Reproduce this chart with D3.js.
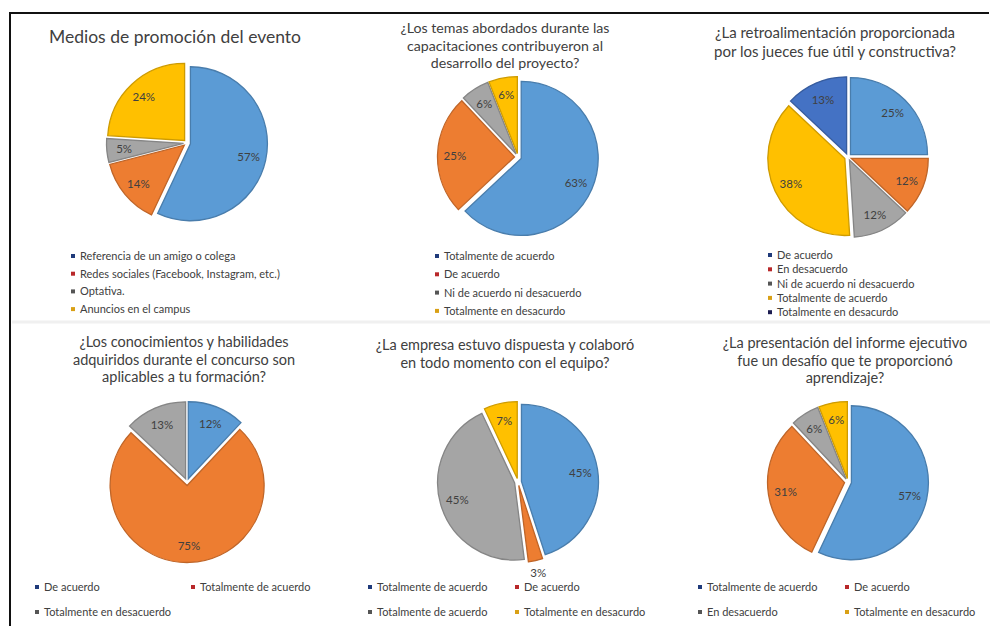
<!DOCTYPE html>
<html>
<head>
<meta charset="utf-8">
<script src="https://cdn.jsdelivr.net/npm/d3@7"></script>
<style>
  body { margin: 0; background: #fff; }
  svg { display: block; font-family: Lato, "Open Sans", sans-serif; }
  .title { fill: #404040; text-anchor: middle; }
  .pct { fill: #404040; font-size: 11.5px; text-anchor: middle; dominant-baseline: central; }
  .leg { fill: #404040; font-size: 11px; }
</style>
</head>
<body>
<script>
"use strict"
// Data for each survey question
var promoTitle = ["Medios de promoción del evento"]
var promoLabels = ["Referencia de un amigo o colega", "Redes sociales (Facebook, Instagram, etc.)", "Optativa.", "Anuncios en el campus"]
var promoValues = [57, 14, 5, 24]

var temasTitle = ["¿Los temas abordados durante las", "capacitaciones contribuyeron al", "desarrollo del proyecto?"]
var temasLabels = ["Totalmente de acuerdo", "De acuerdo", "Ni de acuerdo ni desacuerdo", "Totalmente en desacurdo"]
var temasValues = [63, 25, 6, 6]

var retroTitle = ["¿La retroalimentación proporcionada", "por los jueces fue útil y constructiva?"]
var retroLabels = ["De acuerdo", "En desacuerdo", "Ni de acuerdo ni desacuerdo", "Totalmente de acuerdo", "Totalmente en desacurdo"]
var retroValues = [25, 12, 12, 38, 13]

var conocTitle = ["¿Los conocimientos y habilidades", "adquiridos durante el concurso son", "aplicables a tu formación?"]
var conocLabels = ["De acuerdo", "Totalmente de acuerdo", "Totalmente en desacuerdo"]
var conocValues = [12, 75, 13]

var empresaTitle = ["¿La empresa estuvo dispuesta y colaboró", "en todo momento con el equipo?"]
var empresaLabels = ["Totalmente de acuerdo", "De acuerdo", "Totalmente de acuerdo", "Totalmente en desacurdo"]
var empresaValues = [45, 3, 45, 7]

var informeTitle = ["¿La presentación del informe ejecutivo", "fue un desafío que te proporcionó", "aprendizaje?"]
var informeLabels = ["Totalmente de acuerdo", "De acuerdo", "En desacuerdo", "Totalmente en desacurdo"]
var informeValues = [57, 31, 6, 6]

// Colours (Office palette for slices, legend keys are darker as in the original)
var sliceColors = ["#5b9bd5", "#ed7d31", "#a5a5a5", "#ffc000", "#4472c4"]
var keyColors = ["#1f3a7a", "#b8282a", "#555555", "#d9a015", "#1c1c50"]

var width = 990, height = 626
var radius = 77

var svg = d3.select("body").append("svg")
    .attr("width", width)
    .attr("height", height)

// frame lines (top and left) and the faint seam between rows
svg.append("line").attr("x1", 10).attr("x2", 989).attr("y1", 13).attr("y2", 13)
    .attr("stroke", "#111").attr("stroke-width", 2)
svg.append("line").attr("x1", 10).attr("x2", 10).attr("y1", 12).attr("y2", height)
    .attr("stroke", "#111").attr("stroke-width", 2)
svg.append("line").attr("x1", 12).attr("x2", width).attr("y1", 322).attr("y2", 322)
    .attr("stroke", "#f0f0f0").attr("stroke-width", 3)

var panels = [
    {title: promoTitle, labels: promoLabels, values: promoValues,
     tx: 175, ty: 43, tsize: 17.5, lineH: 18, cx: 187, cy: 143,
     legend: {type: "list", x: 73, y: 256, dy: 17.7}},
    {title: temasTitle, labels: temasLabels, values: temasValues,
     tx: 505, ty: 33, tsize: 14.2, lineH: 17.5, cx: 518, cy: 157,
     legend: {type: "list", x: 437, y: 256, dy: 18.3}},
    {title: retroTitle, labels: retroLabels, values: retroValues,
     tx: 835, ty: 38, tsize: 15, lineH: 19, cx: 848, cy: 157,
     legend: {type: "list", x: 770, y: 255, dy: 14.3}},
    {title: conocTitle, labels: conocLabels, values: conocValues,
     tx: 184, ty: 347, tsize: 14.5, lineH: 17.5, cx: 187, cy: 482,
     legend: {type: "grid", x: 37, x2: 193, y: 587, dy: 25}},
    {title: empresaTitle, labels: empresaLabels, values: empresaValues,
     tx: 505, ty: 350, tsize: 14.5, lineH: 18, cx: 518, cy: 482,
     legend: {type: "grid", x: 370, x2: 517, y: 587, dy: 25}},
    {title: informeTitle, labels: informeLabels, values: informeValues,
     tx: 845, ty: 348, tsize: 14.5, lineH: 17.5, cx: 848, cy: 482,
     legend: {type: "grid", x: 700, x2: 847, y: 587, dy: 25}}
]

var pie = d3.pie().sort(null).value(function(d) { return d })
var arc = d3.arc().innerRadius(0).outerRadius(radius)
var explode = 3.5

panels.forEach(function(p) {
    var g = svg.append("g")

    // title, one text per line
    g.selectAll(".title").data(p.title).enter().append("text")
        .attr("class", "title")
        .attr("x", p.tx)
        .attr("y", function(d, i) { return p.ty + i * p.lineH })
        .style("font-size", p.tsize + "px")
        .text(function(d) { return d })

    var arcs = pie(p.values)
    var totalVal = d3.sum(p.values)
    var pg = g.append("g").attr("transform", "translate(" + p.cx + "," + p.cy + ")")

    pg.selectAll("path").data(arcs).enter().append("path")
        .attr("d", arc)
        .attr("transform", function(d) {
            var a = (d.startAngle + d.endAngle) / 2
            return "translate(" + (Math.sin(a) * explode) + "," + (-Math.cos(a) * explode) + ")"
        })
        .attr("fill", function(d, i) { return sliceColors[i] })
        .attr("stroke", function(d, i) { return d3.color(sliceColors[i]).darker(0.6) })
        .attr("stroke-width", 1.3)

    // percentage labels; tiny slices get the label outside
    pg.selectAll(".pct").data(arcs).enter().append("text")
        .attr("class", "pct")
        .attr("transform", function(d) {
            var a = (d.startAngle + d.endAngle) / 2
            var r = d.value / totalVal < 0.04 ? radius + 16 : radius * 0.82
            return "translate(" + (Math.sin(a) * r) + "," + (-Math.cos(a) * r) + ")"
        })
        .text(function(d) { return d.value + "%" })

    // legend
    var L = p.legend
    var items = g.selectAll(".legItem").data(p.labels).enter().append("g")
        .attr("transform", function(d, i) {
            if (L.type == "list") return "translate(" + L.x + "," + (L.y + i * L.dy) + ")"
            return "translate(" + (i % 2 == 0 ? L.x : L.x2) + "," + (L.y + Math.floor(i / 2) * L.dy) + ")"
        })
    items.append("rect")
        .attr("x", -2).attr("y", -2).attr("width", 4).attr("height", 4)
        .attr("fill", function(d, i) { return keyColors[i] })
    items.append("text")
        .attr("class", "leg")
        .attr("x", 7)
        .attr("y", 4)
        .text(function(d) { return d })
})
</script>
</body>
</html>
